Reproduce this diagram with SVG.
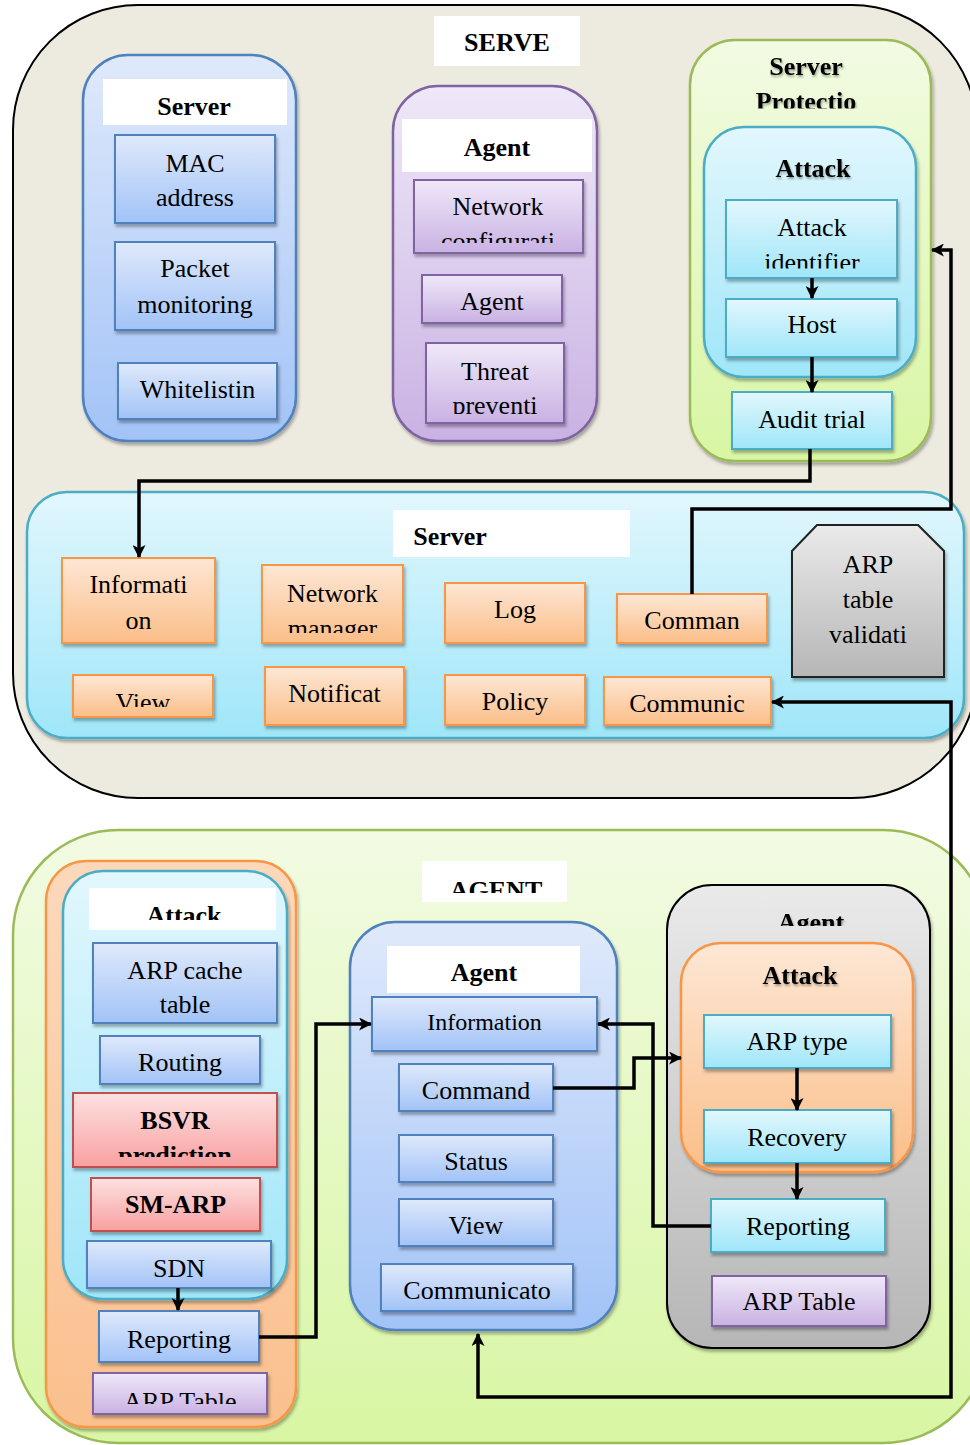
<svg xmlns="http://www.w3.org/2000/svg" width="970" height="1445" viewBox="0 0 970 1445">
  <defs>
    <linearGradient id="gBlue" x1="0" y1="0" x2="0" y2="1"><stop offset="0" stop-color="#DFE9FB"/><stop offset="1" stop-color="#A2C3F7"/></linearGradient>
    <linearGradient id="gPurple" x1="0" y1="0" x2="0" y2="1"><stop offset="0" stop-color="#EFE8F8"/><stop offset="1" stop-color="#C9B2E3"/></linearGradient>
    <linearGradient id="gGreen" x1="0" y1="0" x2="0" y2="1"><stop offset="0" stop-color="#F2FBE3"/><stop offset="1" stop-color="#D8F6A3"/></linearGradient>
    <linearGradient id="gCyan" x1="0" y1="0" x2="0" y2="1"><stop offset="0" stop-color="#E2F7FD"/><stop offset="1" stop-color="#9FE6F9"/></linearGradient>
    <linearGradient id="gOrange" x1="0" y1="0" x2="0" y2="1"><stop offset="0" stop-color="#FDE7D5"/><stop offset="1" stop-color="#FBBE88"/></linearGradient>
    <linearGradient id="gOrangeC" x1="0" y1="0" x2="0" y2="1"><stop offset="0" stop-color="#FCD8BB"/><stop offset="1" stop-color="#FAC08E"/></linearGradient>
    <linearGradient id="gGray" x1="0" y1="0" x2="0" y2="1"><stop offset="0" stop-color="#EAEAEA"/><stop offset="1" stop-color="#B6B6B6"/></linearGradient>
    <linearGradient id="gRed" x1="0" y1="0" x2="0" y2="1"><stop offset="0" stop-color="#FDE1E1"/><stop offset="1" stop-color="#F8A0A0"/></linearGradient>

    <filter id="sh" x="-10%" y="-10%" width="125%" height="130%">
      <feDropShadow dx="1.5" dy="3" stdDeviation="1.8" flood-color="#000" flood-opacity="0.3"/>
    </filter>
    <filter id="tsh" x="-10%" y="-20%" width="125%" height="150%">
      <feDropShadow dx="1" dy="2" stdDeviation="1.2" flood-color="#000" flood-opacity="0.35"/>
    </filter>

    <marker id="arr" viewBox="0 0 12 12" refX="11" refY="6" markerWidth="13" markerHeight="13" markerUnits="userSpaceOnUse" orient="auto-start-reverse">
      <path d="M0,0 L12,6 L0,12 L3,6 z" fill="#000"/>
    </marker>

    <!-- clip regions for labels that overflow their boxes -->
    <clipPath id="cNet"><rect x="414" y="180" width="169" height="63"/></clipPath>
    <clipPath id="cThr"><rect x="426" y="343" width="138" height="71"/></clipPath>
    <clipPath id="cProt"><rect x="690" y="40" width="241" height="68.5"/></clipPath>
    <clipPath id="cAid"><rect x="726" y="200" width="171" height="68.5"/></clipPath>
    <clipPath id="cNm"><rect x="262" y="565" width="141" height="68"/></clipPath>
    <clipPath id="cArpV"><rect x="792" y="525" width="152" height="142"/></clipPath>
    <clipPath id="cView"><rect x="73" y="675" width="140" height="32"/></clipPath>
    <clipPath id="cAgentT"><rect x="422" y="861" width="145" height="32"/></clipPath>
    <clipPath id="cAtkL"><rect x="89" y="888" width="187" height="32"/></clipPath>
    <clipPath id="cBsvr"><rect x="73" y="1093" width="204" height="64"/></clipPath>
    <clipPath id="cArpL"><rect x="93" y="1373" width="174" height="31"/></clipPath>
    <clipPath id="cAgG"><rect x="667" y="885" width="263" height="41"/></clipPath>

    <style>
      text { font-family: "Liberation Serif", "Times New Roman", serif; font-size: 26px; fill: #000; text-anchor: middle; }
      .b { font-weight: bold; }
      .sm { font-size: 24px; }
      .lbl { fill: #FFFFFF; stroke: none; }
      .blueBox { fill: url(#gBlue); stroke: #4F81BD; stroke-width: 2; filter: url(#sh); }
      .purpleBox { fill: url(#gPurple); stroke: #8064A2; stroke-width: 2; filter: url(#sh); }
      .cyanBox { fill: url(#gCyan); stroke: #4BACC6; stroke-width: 2; filter: url(#sh); }
      .orangeBox { fill: url(#gOrange); stroke: #F79646; stroke-width: 2; filter: url(#sh); }
      .redBox { fill: url(#gRed); stroke: #C0504D; stroke-width: 2; filter: url(#sh); }
      .grayBox { fill: url(#gGray); stroke: #222; stroke-width: 2; filter: url(#sh); }
      .conn { fill: none; stroke: #000; stroke-width: 3.5; stroke-linejoin: miter; }
      .ts { filter: url(#tsh); }
    </style>
  </defs>

  <!-- SERVE side -->
  <g id="serve">
    <rect x="13" y="5" width="964" height="793" rx="125" ry="125" fill="#EDEBE0" stroke="#000" stroke-width="2"/>
    <rect class="lbl" x="434" y="16" width="146" height="50"/>
    <text class="b" x="507" y="51">SERVE</text>
  </g>

  <g id="server-group">
    <rect x="83" y="55" width="213" height="386" rx="45" fill="url(#gBlue)" stroke="#4F81BD" stroke-width="2.5" filter="url(#sh)"/>
    <rect class="lbl" x="103" y="79" width="184" height="46"/>
    <text class="b" x="194" y="115">Server</text>
  </g>
  <g id="mac-address">
    <rect class="blueBox" x="115" y="135" width="160" height="88"/>
    <text x="195" y="172">MAC</text>
    <text x="195" y="206">address</text>
  </g>
  <g id="packet-monitoring">
    <rect class="blueBox" x="115" y="242" width="160" height="88"/>
    <text x="195" y="277">Packet</text>
    <text x="195" y="313">monitoring</text>
  </g>
  <g id="whitelisting">
    <rect class="blueBox" x="118" y="363" width="159" height="56"/>
    <text x="197.5" y="398">Whitelistin</text>
  </g>

  <g id="agent-group">
    <rect x="393" y="86" width="204" height="355" rx="45" fill="url(#gPurple)" stroke="#8064A2" stroke-width="2.5" filter="url(#sh)"/>
    <rect class="lbl" x="402" y="119" width="190" height="53"/>
    <text class="b" x="497" y="156">Agent</text>
  </g>
  <g id="network-config">
    <rect class="purpleBox" x="414" y="180" width="169" height="73"/>
    <g clip-path="url(#cNet)">
      <text x="498" y="215">Network</text>
      <text x="498" y="250">configurati</text>
    </g>
  </g>
  <g id="agent-box">
    <rect class="purpleBox" x="422" y="275" width="140" height="48"/>
    <text x="492" y="310">Agent</text>
  </g>
  <g id="threat-prevention">
    <rect class="purpleBox" x="426" y="343" width="138" height="80"/>
    <g clip-path="url(#cThr)">
      <text x="495" y="380">Threat</text>
      <text x="495" y="414">preventi</text>
    </g>
  </g>

  <g id="server-protection">
    <rect x="690" y="40" width="241" height="421" rx="45" fill="url(#gGreen)" stroke="#9BBB59" stroke-width="2.5" filter="url(#sh)"/>
    <g clip-path="url(#cProt)">
      <text class="b ts" x="806" y="75">Server</text>
      <text class="b ts" x="806" y="110">Protectio</text>
    </g>
  </g>
  <g id="attack-top">
    <rect x="704" y="127" width="212" height="250" rx="40" fill="url(#gCyan)" stroke="#4BACC6" stroke-width="2.5" filter="url(#sh)"/>
    <text class="b ts" x="813" y="177">Attack</text>
  </g>
  <g id="attack-identifier">
    <rect class="cyanBox" x="726" y="200" width="171" height="78"/>
    <g clip-path="url(#cAid)">
      <text x="812" y="236">Attack</text>
      <text x="812" y="271">identifier</text>
    </g>
  </g>
  <g id="host">
    <rect class="cyanBox" x="726" y="299" width="171" height="58"/>
    <text x="812" y="333">Host</text>
  </g>
  <g id="audit-trial">
    <rect class="cyanBox" x="732" y="392" width="160" height="57"/>
    <text x="812" y="428">Audit trial</text>
  </g>

  <!-- Server module row -->
  <g id="server-module">
    <rect x="27" y="492" width="937" height="246" rx="40" fill="url(#gCyan)" stroke="#4BACC6" stroke-width="2.5" filter="url(#sh)"/>
    <rect class="lbl" x="393" y="510" width="237" height="47"/>
    <text class="b" x="450" y="545">Server</text>
  </g>
  <g id="information">
    <rect class="orangeBox" x="62" y="558" width="153" height="85"/>
    <text x="138.5" y="593">Informati</text>
    <text x="138.5" y="629">on</text>
  </g>
  <g id="network-manager">
    <rect class="orangeBox" x="262" y="565" width="141" height="78"/>
    <g clip-path="url(#cNm)">
      <text x="332.5" y="602">Network</text>
      <text x="332.5" y="637">manager</text>
    </g>
  </g>
  <g id="log">
    <rect class="orangeBox" x="445" y="583" width="140" height="60"/>
    <text x="515" y="618">Log</text>
  </g>
  <g id="command-top">
    <rect class="orangeBox" x="617" y="594" width="150" height="49"/>
    <text x="692" y="629">Comman</text>
  </g>
  <g id="arp-validation">
    <polygon class="grayBox" points="792,551 817,525 918,525 944,551 944,677 792,677"/>
    <g clip-path="url(#cArpV)">
      <text x="868" y="573">ARP</text>
      <text x="868" y="608">table</text>
      <text x="868" y="643">validati</text>
      <text x="868" y="679">on</text>
    </g>
  </g>
  <g id="view-top">
    <rect class="orangeBox" x="73" y="675" width="140" height="42"/>
    <g clip-path="url(#cView)">
      <text x="143" y="711">View</text>
    </g>
  </g>
  <g id="notification">
    <rect class="orangeBox" x="265" y="667" width="139" height="58"/>
    <text x="334.5" y="702">Notificat</text>
  </g>
  <g id="policy">
    <rect class="orangeBox" x="445" y="675" width="140" height="50"/>
    <text x="515" y="710">Policy</text>
  </g>
  <g id="communication-top">
    <rect class="orangeBox" x="604" y="677" width="167" height="48"/>
    <text x="687" y="712">Communic</text>
  </g>

  <!-- AGENT side -->
  <g id="agent-side">
    <rect x="13" y="830" width="975" height="613" rx="105" ry="105" fill="url(#gGreen)" stroke="#9BBB59" stroke-width="2.5"/>
    <rect class="lbl" x="422" y="861" width="145" height="41"/>
    <g clip-path="url(#cAgentT)">
      <text class="b" x="496" y="899">AGENT</text>
    </g>
  </g>

  <g id="attack-left-outer">
    <rect x="46" y="861" width="250" height="566" rx="40" fill="url(#gOrangeC)" stroke="#F79646" stroke-width="2.5" filter="url(#sh)"/>
  </g>
  <g id="attack-left">
    <rect x="63" y="871" width="224" height="428" rx="40" fill="url(#gCyan)" stroke="#4BACC6" stroke-width="2.5" filter="url(#sh)"/>
    <rect class="lbl" x="89" y="888" width="187" height="42"/>
    <g clip-path="url(#cAtkL)">
      <text class="b" x="184" y="924">Attack</text>
    </g>
  </g>
  <g id="arp-cache">
    <rect class="blueBox" x="93" y="943" width="184" height="80"/>
    <text x="185" y="979">ARP cache</text>
    <text x="185" y="1013">table</text>
  </g>
  <g id="routing">
    <rect class="blueBox" x="100" y="1036" width="160" height="48"/>
    <text x="180" y="1071">Routing</text>
  </g>
  <g id="bsvr">
    <rect class="redBox" x="73" y="1093" width="204" height="74"/>
    <g clip-path="url(#cBsvr)">
      <text class="b" x="175" y="1129">BSVR</text>
      <text class="b" x="175" y="1164">prediction</text>
    </g>
  </g>
  <g id="sm-arp">
    <rect class="redBox" x="91" y="1178" width="169" height="53"/>
    <text class="b" x="175.5" y="1213">SM-ARP</text>
  </g>
  <g id="sdn">
    <rect class="blueBox" x="87" y="1241" width="184" height="47"/>
    <text x="179" y="1277">SDN</text>
  </g>
  <g id="reporting-left">
    <rect class="blueBox" x="99" y="1311" width="160" height="51"/>
    <text x="179" y="1348">Reporting</text>
  </g>
  <g id="arp-table-left">
    <rect class="purpleBox" x="93" y="1373" width="174" height="41"/>
    <g clip-path="url(#cArpL)">
      <text x="180" y="1410">ARP Table</text>
    </g>
  </g>

  <g id="agent-mid">
    <rect x="350" y="922" width="267" height="408" rx="45" fill="url(#gBlue)" stroke="#4F81BD" stroke-width="2.5" filter="url(#sh)"/>
    <rect class="lbl" x="387" y="946" width="193" height="47"/>
    <text class="b" x="484" y="981">Agent</text>
  </g>
  <g id="information-mid">
    <rect class="blueBox" x="372" y="997" width="225" height="54"/>
    <text class="sm" x="484.5" y="1030">Information</text>
  </g>
  <g id="command-mid">
    <rect class="blueBox" x="399" y="1064" width="154" height="47"/>
    <text x="476" y="1099">Command</text>
  </g>
  <g id="status">
    <rect class="blueBox" x="399" y="1135" width="154" height="47"/>
    <text x="476" y="1170">Status</text>
  </g>
  <g id="view-mid">
    <rect class="blueBox" x="399" y="1199" width="154" height="47"/>
    <text x="476" y="1234">View</text>
  </g>
  <g id="communicator">
    <rect class="blueBox" x="381" y="1264" width="192" height="47"/>
    <text x="477" y="1299">Communicato</text>
  </g>

  <g id="agent-right">
    <rect x="667" y="885" width="263" height="463" rx="45" fill="url(#gGray)" stroke="#000" stroke-width="2" filter="url(#sh)"/>
    <g clip-path="url(#cAgG)">
      <text class="b ts" x="811" y="931">Agent</text>
    </g>
  </g>
  <g id="attack-right">
    <rect x="681" y="943" width="232" height="229" rx="40" fill="url(#gOrange)" stroke="#F79646" stroke-width="2.5" filter="url(#sh)"/>
    <text class="b ts" x="800" y="984">Attack</text>
  </g>
  <g id="arp-type">
    <rect class="cyanBox" x="704" y="1015" width="187" height="53"/>
    <text x="797" y="1050">ARP type</text>
  </g>
  <g id="recovery">
    <rect class="cyanBox" x="704" y="1110" width="187" height="53"/>
    <text x="797" y="1146">Recovery</text>
  </g>
  <g id="reporting-right">
    <rect class="cyanBox" x="711" y="1199" width="174" height="53"/>
    <text x="798" y="1235">Reporting</text>
  </g>
  <g id="arp-table-right">
    <rect class="purpleBox" x="712" y="1276" width="174" height="50"/>
    <text x="799" y="1310">ARP Table</text>
  </g>

  <!-- connectors -->
  <g id="connectors">
    <path class="conn" d="M812,278 V298" stroke-width="3" marker-end="url(#arr)"/>
    <path class="conn" d="M812,357 V392" marker-end="url(#arr)"/>
    <path class="conn" d="M810,449 V481 H139 V557" marker-end="url(#arr)"/>
    <path class="conn" d="M692,594 V509 H951 V250 H932" marker-end="url(#arr)"/>
    <path class="conn" d="M772,702 H951 V1397 H478 V1334" marker-start="url(#arr)" marker-end="url(#arr)"/>
    <path class="conn" d="M178,1288 V1310" stroke-width="3" marker-end="url(#arr)"/>
    <path class="conn" d="M259,1337 H316 V1024 H371" marker-end="url(#arr)"/>
    <path class="conn" d="M711,1226 H653 V1024 H598" marker-end="url(#arr)"/>
    <path class="conn" d="M553,1088 H634 V1058 H681" marker-end="url(#arr)"/>
    <path class="conn" d="M797,1068 V1110" marker-end="url(#arr)"/>
    <path class="conn" d="M797,1163 V1199" marker-end="url(#arr)"/>
  </g>
</svg>
